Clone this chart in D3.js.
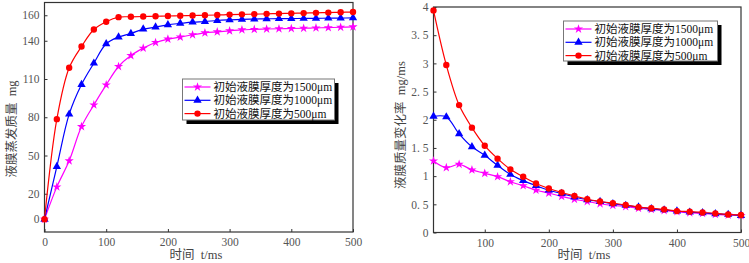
<!DOCTYPE html>
<html>
<head>
<meta charset="utf-8">
<script src="https://cdn.jsdelivr.net/npm/d3@7"></script>
<style>
  body { margin: 0; background: #fff; }
  text { font-family: "Liberation Serif", "Noto Sans CJK SC", serif; white-space: pre; }
</style>
</head>
<body>
<div id="chart"></div>
<script>
// data
const seriesNames = ["初始液膜厚度为1500μm", "初始液膜厚度为1000μm", "初始液膜厚度为500μm"];
const colors = ["#ff00ff", "#0000ff", "#ff0000"];

// left: evaporated mass (mg) vs time
const timeMass = [0,20,40,60,80,100,120,140,160,180,200,220,240,260,280,300,320,340,360,380,400,420,440,460,480,500];
const mass1500 = [0,25.4,45.8,72.7,89.7,105.4,119.8,128.4,134.2,138.6,141.3,142.9,144.7,146.2,147,147.8,148.6,148.9,149.2,149.4,149.6,149.8,150.1,150.3,150.6,150.9];
const mass1000 = [0,41.3,82.4,105.7,122.4,137.6,142.9,145.7,149.1,150.7,152.5,153.6,154.6,155.1,155.9,156.4,156.8,157,157.2,157.3,157.4,157.5,157.6,157.7,157.8,157.9];
const mass500  = [0,78.5,118.8,135.5,148.8,154.9,158.5,158.8,159,159.2,159.4,159.6,159.8,160,160.2,160.5,160.7,160.9,161.1,161.3,161.5,161.7,161.9,162.1,162.3,162.5];
const massTicks = [0,20,50,80,110,140,160];

// right: mass change rate (mg/ms) vs time
const timeRate = [20,40,60,80,100,120,140,160,180,200,220,240,260,280,300,320,340,360,380,400,420,440,460,480,500];
const rate1500 = [1.27,1.15,1.21,1.11,1.05,0.99,0.90,0.83,0.75,0.70,0.64,0.59,0.55,0.51,0.48,0.46,0.43,0.41,0.39,0.37,0.35,0.34,0.32,0.31,0.30];
const rate1000 = [2.06,2.05,1.75,1.52,1.37,1.19,1.03,0.92,0.83,0.75,0.69,0.63,0.58,0.55,0.51,0.48,0.45,0.42,0.40,0.38,0.36,0.35,0.33,0.32,0.30];
const rate500  = [3.94,2.97,2.26,1.86,1.54,1.31,1.12,0.99,0.87,0.78,0.71,0.65,0.59,0.55,0.52,0.49,0.45,0.43,0.41,0.38,0.37,0.355,0.34,0.32,0.31];
const rateTicks = [0,0.5,1,1.5,2,2.5,3,3.5,4];

const width = 749, height = 263;
const symbols = [d3.symbolStar, d3.symbolTriangle, d3.symbolCircle];
const symSize = [26, 30, 32];

let svg = d3.select("#chart")
    .append("svg")
    .attr("width", width)
    .attr("height", height);

function drawPanel(o) {
    let g = svg.append("g");
    let x = d3.scaleLinear().domain(o.xDomain).range(o.xRange);
    let y = d3.scaleLinear().domain(o.yDomain).range(o.yRange);

    // x axis, ticks pointing inward
    g.append("g")
        .attr("transform", `translate(0,${o.yRange[0]})`)
        .call(d3.axisBottom(x).tickValues(o.xTicks).tickSizeInner(-3).tickSizeOuter(0).tickPadding(6))
        .call(a => a.select(".domain").remove())
        .call(a => a.selectAll("line").attr("stroke", "#333"))
        .call(a => a.selectAll("text").attr("fill", "#555").attr("font-size", 11.5)
            .style("font-family", "Liberation Serif"));

    g.append("g")
        .attr("transform", `translate(${o.xRange[0]},0)`)
        .call(d3.axisLeft(y).tickValues(o.yTicks).tickSizeInner(-3).tickSizeOuter(0).tickPadding(5)
            .tickFormat(o.yFormat))
        .call(a => a.select(".domain").remove())
        .call(a => a.selectAll("line").attr("stroke", "#333"))
        .call(a => a.selectAll("text").attr("fill", "#555").attr("font-size", 11.5)
            .style("font-family", "Liberation Serif"));

    // frame
    g.append("rect")
        .attr("x", o.xRange[0]).attr("y", o.yRange[1])
        .attr("width", o.xRange[1] - o.xRange[0])
        .attr("height", o.yRange[0] - o.yRange[1])
        .attr("fill", "none").attr("stroke", "#333").attr("stroke-width", 1.2);

    let line = d3.line()
        .x((d, i) => x(o.xs[i]))
        .y(d => y(d))
        .curve(d3.curveCatmullRom.alpha(0.5));

    o.series.forEach((s, k) => {
        g.append("path")
            .datum(s)
            .attr("fill", "none")
            .attr("stroke", colors[k])
            .attr("stroke-width", 1.2)
            .attr("d", line);
        g.selectAll(".m" + k)
            .data(s)
            .join("path")
            .attr("class", "m" + k)
            .attr("transform", (d, i) => `translate(${x(o.xs[i])},${y(d)})`)
            .attr("d", d3.symbol(symbols[k], symSize[k]))
            .attr("fill", colors[k]);
    });

    // axis titles
    g.append("text")
        .attr("x", o.xTitlePos[0]).attr("y", o.xTitlePos[1])
        .attr("text-anchor", "middle")
        .attr("font-size", 12.5).attr("fill", "#444")
        .text(o.xTitle);
    g.append("text")
        .attr("transform", `translate(${o.yTitlePos[0]},${o.yTitlePos[1]}) rotate(-90)`)
        .attr("text-anchor", "middle")
        .attr("font-size", 12.5).attr("fill", "#444")
        .text(o.yTitle);

    // legend with black drop shadow
    let [lx, ly, lw, lh] = o.legend;
    let leg = g.append("g").attr("transform", `translate(${lx},${ly})`);
    leg.append("rect").attr("x", 4).attr("y", 4).attr("width", lw).attr("height", lh).attr("fill", "#000");
    leg.append("rect").attr("width", lw).attr("height", lh)
        .attr("fill", "#fff").attr("stroke", "#777").attr("stroke-width", 1);
    seriesNames.forEach((name, k) => {
        let cy = 8 + k * 13.3;
        leg.append("line").attr("x1", 2).attr("x2", 28).attr("y1", cy).attr("y2", cy)
            .attr("stroke", colors[k]).attr("stroke-width", 1.2);
        leg.append("path").attr("transform", `translate(15,${cy})`)
            .attr("d", d3.symbol(symbols[k], symSize[k])).attr("fill", colors[k]);
        leg.append("text").attr("x", 31).attr("y", cy + 4)
            .attr("font-size", 11.5).attr("fill", "#111")
            .text(name);
    });
}

drawPanel({
    xs: timeMass, series: [mass1500, mass1000, mass500],
    xDomain: [0, 500], xRange: [44.5, 353],
    yDomain: [-10, 170], yRange: [232, 2.5],
    xTicks: [0,100,200,300,400,500], yTicks: massTicks,
    yFormat: d => d,
    xTitle: "时间  t/ms", xTitlePos: [196, 259],
    yTitle: "液膜蒸发质量  mg", yTitlePos: [16, 129],
    legend: [182.5, 79, 152, 41]
});

drawPanel({
    xs: timeRate, series: [rate1500, rate1000, rate500],
    xDomain: [20, 500], xRange: [433.5, 741],
    yDomain: [0, 4], yRange: [232.5, 7],
    xTicks: [100,200,300,400,500], yTicks: rateTicks,
    yFormat: d => d % 1 ? d.toFixed(1).replace(".", ". ") : d,
    xTitle: "时间  t/ms", xTitlePos: [584, 259],
    yTitle: "液膜质量变化率  mg/ms", yTitlePos: [405, 125],
    legend: [563.5, 21, 154, 40]
});
</script>
</body>
</html>
